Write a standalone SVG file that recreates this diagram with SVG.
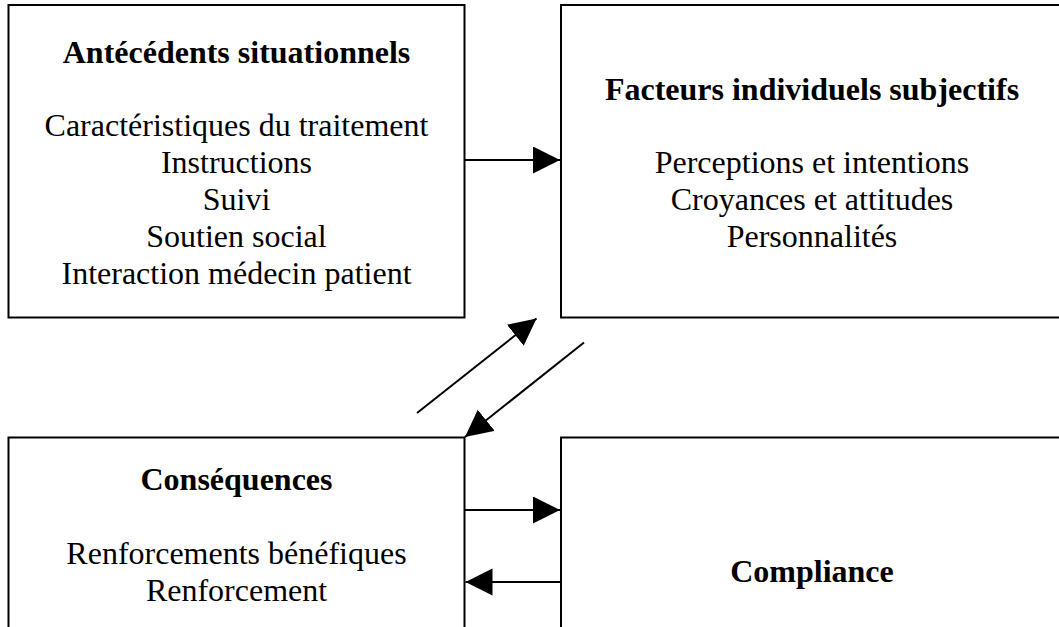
<svg xmlns="http://www.w3.org/2000/svg" width="1059" height="627" viewBox="0 0 1059 627">
<style>
.box{fill:#fff;stroke:#000;stroke-width:2}
.t{font-family:"Liberation Serif","Times New Roman",serif;font-size:32px;fill:#000;text-anchor:middle}
.b{font-weight:bold}
.c{stroke:#000;stroke-width:2;fill:none}
</style>
<defs>
<marker id="ah" markerUnits="userSpaceOnUse" markerWidth="28" markerHeight="28" viewBox="0 0 28 28" refX="27" refY="13.5" orient="auto">
<path d="M0,0 L27,13.5 L0,27 Z" fill="#000"/>
</marker>
</defs>
<rect width="1059" height="627" fill="#fff"/>
<g id="antecedents">
<rect class="box" x="8.5" y="5" width="456" height="312.5"/>
<text class="t b" x="236.5" y="62.5">Antécédents situationnels</text>
<text class="t" x="236.5" y="135.5">Caractéristiques du traitement</text>
<text class="t" x="236.5" y="172.5">Instructions</text>
<text class="t" x="236.5" y="209.5">Suivi</text>
<text class="t" x="236.5" y="246.5">Soutien social</text>
<text class="t" x="236.5" y="283.5">Interaction médecin patient</text>
</g>
<g id="facteurs">
<rect class="box" x="561" y="5" width="520" height="312.5"/>
<text class="t b" x="812" y="99.5">Facteurs individuels subjectifs</text>
<text class="t" x="812" y="172.5">Perceptions et intentions</text>
<text class="t" x="812" y="209.5">Croyances et attitudes</text>
<text class="t" x="812" y="246.5">Personnalités</text>
</g>
<g id="consequences">
<rect class="box" x="8.5" y="437.5" width="456" height="260"/>
<text class="t b" x="236.5" y="490">Conséquences</text>
<text class="t" x="236.5" y="563.5">Renforcements bénéfiques</text>
<text class="t" x="236.5" y="600.5">Renforcement</text>
</g>
<g id="compliance">
<rect class="box" x="561" y="437.5" width="520" height="260"/>
<text class="t b" x="812" y="582">Compliance</text>
</g>
<g id="connectors">
<line class="c" x1="464.5" y1="160" x2="560" y2="160" marker-end="url(#ah)"/>
<line class="c" x1="417" y1="413" x2="536.5" y2="318.5" marker-end="url(#ah)"/>
<line class="c" x1="584" y1="342.5" x2="465" y2="437" marker-end="url(#ah)"/>
<line class="c" x1="464.5" y1="510" x2="560" y2="510" marker-end="url(#ah)"/>
<line class="c" x1="561" y1="582" x2="465.5" y2="582" marker-end="url(#ah)"/>
</g>
</svg>
